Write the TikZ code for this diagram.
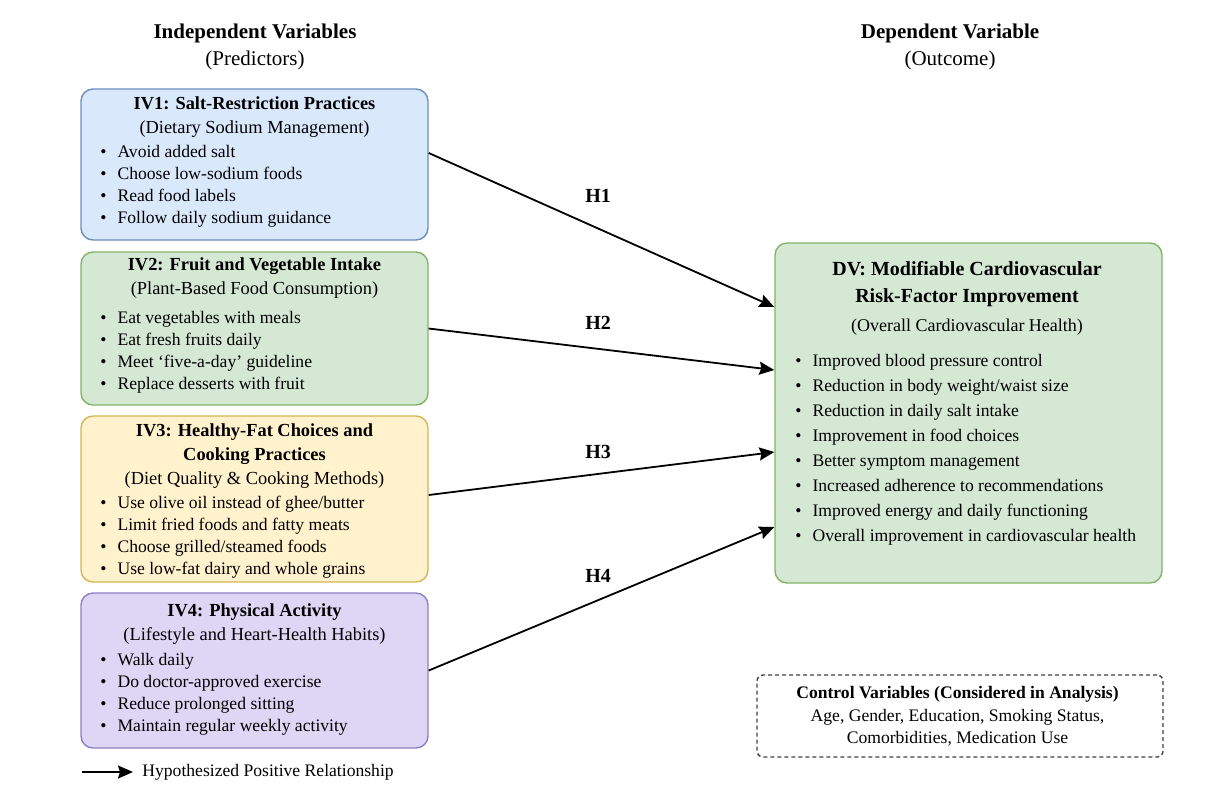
\documentclass[tikz,border=0pt]{standalone}
\usepackage{fontspec}
\setmainfont{Liberation Serif}
\usetikzlibrary{arrows.meta,positioning}

\definecolor{ivblue}{HTML}{DAE8FC}
\definecolor{ivbluedk}{HTML}{6C8EBF}
\definecolor{ivgreen}{HTML}{D5E8D4}
\definecolor{ivgreendk}{HTML}{82B366}
\definecolor{ivyellow}{HTML}{FFF2CC}
\definecolor{ivyellowdk}{HTML}{D6B656}
\definecolor{ivpurple}{HTML}{DDD6F5}
\definecolor{ivpurpledk}{HTML}{8C80C4}
\newcommand\itm{\textbullet\hspace{5.5pt}}

\begin{document}
\begin{tikzpicture}[x=0.5pt,y=-0.5pt,
>={Stealth[length=7.5pt,width=6.5pt,inset=1pt]},
box/.style={rounded corners=6pt,line width=0.7pt,inner sep=0pt},
ivbox/.style={box,minimum width=173.5pt},
head/.style={align=center,font=\fontsize{10.5}{13.5}\selectfont\bfseries},
title/.style={align=center,inner sep=0pt,font=\fontsize{9.2}{12}\selectfont\bfseries},
items/.style={align=left,anchor=west,inner sep=0pt,font=\fontsize{8.8}{11}\selectfont},
hyp/.style={->,line width=0.9pt,font=\fontsize{10}{12}\selectfont\bfseries}]
\useasboundingbox (0,0) rectangle (1209,810);

\node[head] (ivh) at (255,46.5) {Independent Variables\\\mdseries(Predictors)};
\node[head] (dvh) at (950,46.5) {Dependent Variable\\\mdseries(Outcome)};

\node[ivbox,fill=ivblue,draw=ivbluedk,minimum height=75.5pt] (iv1) at (254.5,164.5) {};
\node[title] (iv1t) at (254.5,117) {IV1: Salt-Restriction Practices\\\mdseries(Dietary Sodium Management)};
\node[items] (iv1l) at (100,186) {\itm Avoid added salt\\\itm Choose low-sodium foods\\\itm Read food labels\\\itm Follow daily sodium guidance};

\node[ivbox,fill=ivgreen,draw=ivgreendk,minimum height=76.5pt] (iv2) at (254.5,328.5) {};
\node[title] (iv2t) at (254.5,278.5) {IV2: Fruit and Vegetable Intake\\\mdseries(Plant-Based Food Consumption)};
\node[items] (iv2l) at (100,352.5) {\itm Eat vegetables with meals\\\itm Eat fresh fruits daily\\\itm Meet ‘five-a-day’ guideline\\\itm Replace desserts with fruit};

\node[ivbox,fill=ivyellow,draw=ivyellowdk,minimum height=83pt] (iv3) at (254.5,499) {};
\node[title] (iv3t) at (254.5,456.5) {IV3: Healthy-Fat Choices and\\Cooking Practices\\\mdseries(Diet Quality \& Cooking Methods)};
\node[items] (iv3l) at (100,537) {\itm Use olive oil instead of ghee/butter\\\itm Limit fried foods and fatty meats\\\itm Choose grilled/steamed foods\\\itm Use low-fat dairy and whole grains};

\node[ivbox,fill=ivpurple,draw=ivpurpledk,minimum height=77.5pt] (iv4) at (254.5,670.5) {};
\node[title] (iv4t) at (254.5,624) {IV4: Physical Activity\\\mdseries(Lifestyle and Heart-Health Habits)};
\node[items] (iv4l) at (100,694) {\itm Walk daily\\\itm Do doctor-approved exercise\\\itm Reduce prolonged sitting\\\itm Maintain regular weekly activity};

\node[box,fill=ivgreen,draw=ivgreendk,minimum width=193.5pt,minimum height=170pt] (dv) at (968.5,413) {};
\node[title,font=\fontsize{10}{13.5}\selectfont\bfseries] (dvt) at (967,298) {DV: Modifiable Cardiovascular\\Risk-Factor Improvement\\[1pt]\mdseries\fontsize{9}{12}\selectfont(Overall Cardiovascular Health)};
\node[items,font=\fontsize{8.8}{12.5}\selectfont] (dvl) at (795,449.5) {\itm Improved blood pressure control\\\itm Reduction in body weight/waist size\\\itm Reduction in daily salt intake\\\itm Improvement in food choices\\\itm Better symptom management\\\itm Increased adherence to recommendations\\\itm Improved energy and daily functioning\\\itm Overall improvement in cardiovascular health};

\node[box,rounded corners=3pt,draw=black!75,dash pattern=on 2pt off 1.5pt,minimum width=203pt,minimum height=41pt] (cv) at (960,716) {};
\node[title,font=\fontsize{8.8}{11.25}\selectfont\bfseries] (cvt) at (957.5,716.5) {Control Variables (Considered in Analysis)\\\mdseries Age, Gender, Education, Smoking Status,\\\mdseries Comorbidities, Medication Use};

\coordinate (d1) at ([yshift=53pt]dv.west);
\coordinate (d2) at ([yshift=21.5pt]dv.west);
\coordinate (d3) at ([yshift=-19.5pt]dv.west);
\coordinate (d4) at ([yshift=-57pt]dv.west);
\path[hyp] ([yshift=5.75pt]iv1.east) edge node[pos=0.49,above=9.3pt]{H1} (d1);
\path[hyp] (iv2.east) edge node[pos=0.49,above=5.8pt]{H2} (d2);
\path[hyp] ([yshift=2pt]iv3.east) edge node[pos=0.49,above=4pt]{H3} (d3);
\path[hyp] (iv4.east) edge node[pos=0.49,above=5.3pt]{H4} (d4);

\coordinate (lgs) at (82,772);
\node[items,inner sep=2.5pt] (lgt) at (137,772) {Hypothesized Positive Relationship};
\draw[hyp] (lgs) -- ([xshift=-2pt]lgt.west);
\end{tikzpicture}
\end{document}
